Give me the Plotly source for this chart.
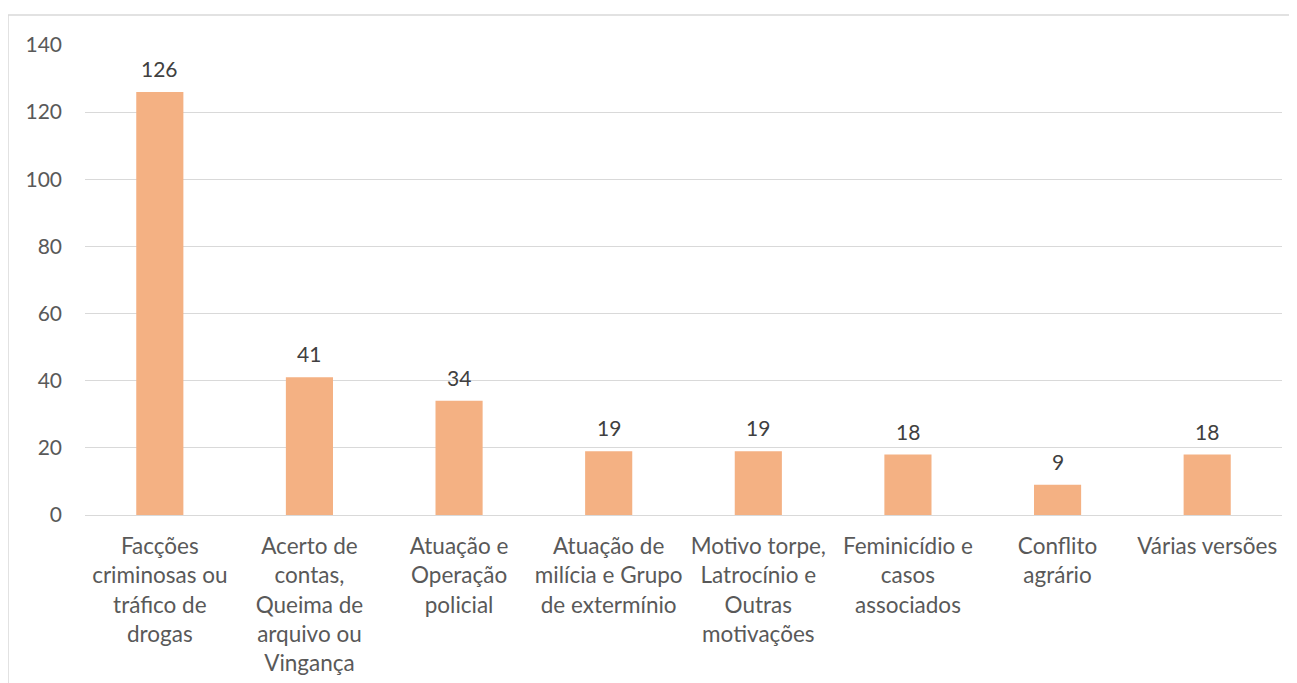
import plotly.graph_objects as go

categories = [
    "Facções<br>criminosas ou<br>tráfico de<br>drogas",
    "Acerto de<br>contas,<br>Queima de<br>arquivo ou<br>Vingança",
    "Atuação e<br>Operação<br>policial",
    "Atuação de<br>milícia e Grupo<br>de extermínio",
    "Motivo torpe,<br>Latrocínio e<br>Outras<br>motivações",
    "Feminicídio e<br>casos<br>associados",
    "Conflito<br>agrário",
    "Várias versões",
]
values = [126, 41, 34, 19, 19, 18, 9, 18]
y_ticks = [0, 20, 40, 60, 80, 100, 120, 140]

FONT = "Lato, Carlito, Calibri, sans-serif"
TXT = "#595959"

# the page body adds an 8px offset, so the figure is slightly smaller
W, H = 1289, 675
ml, mr, mt, mb = 77, 15, 37, 168
pw, ph = W - ml - mr, H - mt - mb

xs = list(range(len(categories)))

fig = go.Figure(
    go.Bar(
        x=xs,
        y=values,
        marker=dict(color="#F4B183", line=dict(width=0)),
        width=0.315,
        hoverinfo="x+y",
    )
)

for xi, v in zip(xs, values):
    fig.add_annotation(
        x=xi,
        y=v,
        text=str(v),
        showarrow=False,
        yanchor="bottom",
        xanchor="center",
        yshift=9,
        font=dict(family=FONT, size=21, color="#404040"),
    )

fig.update_layout(
    width=W,
    height=H,
    margin=dict(l=ml, r=mr, t=mt, b=mb, pad=0, autoexpand=False),
    paper_bgcolor="white",
    plot_bgcolor="white",
    showlegend=False,
    font=dict(family=FONT, size=21, color=TXT),
)
fig.update_xaxes(
    tickmode="array",
    tickvals=xs,
    ticktext=categories,
    range=[-0.5, len(categories) - 0.5],
    showgrid=False,
    showline=True,
    linecolor="#D9D9D9",
    linewidth=1,
    ticks="",
    tickfont=dict(family=FONT, size=22.5, color=TXT),
    ticklabelstandoff=11,
    zeroline=False,
    automargin=False,
)
fig.update_yaxes(
    range=[0, 140],
    tickmode="array",
    tickvals=y_ticks,
    showgrid=True,
    gridcolor="#D9D9D9",
    gridwidth=1,
    zeroline=False,
    showline=False,
    ticks="",
    tickfont=dict(family=FONT, size=21, color=TXT),
    ticklabelstandoff=22,
    automargin=False,
)
fig.add_shape(
    type="rect",
    xref="paper",
    yref="paper",
    x0=(0 - ml) / pw,
    x1=(W + 20 - ml) / pw,
    y0=-(H + 20 - mt - ph) / ph,
    y1=1 + (mt - 7) / ph,
    line=dict(color="#D9D9D9", width=1.5),
    fillcolor="rgba(0,0,0,0)",
    layer="below",
)

fig.write_html("out.html")
